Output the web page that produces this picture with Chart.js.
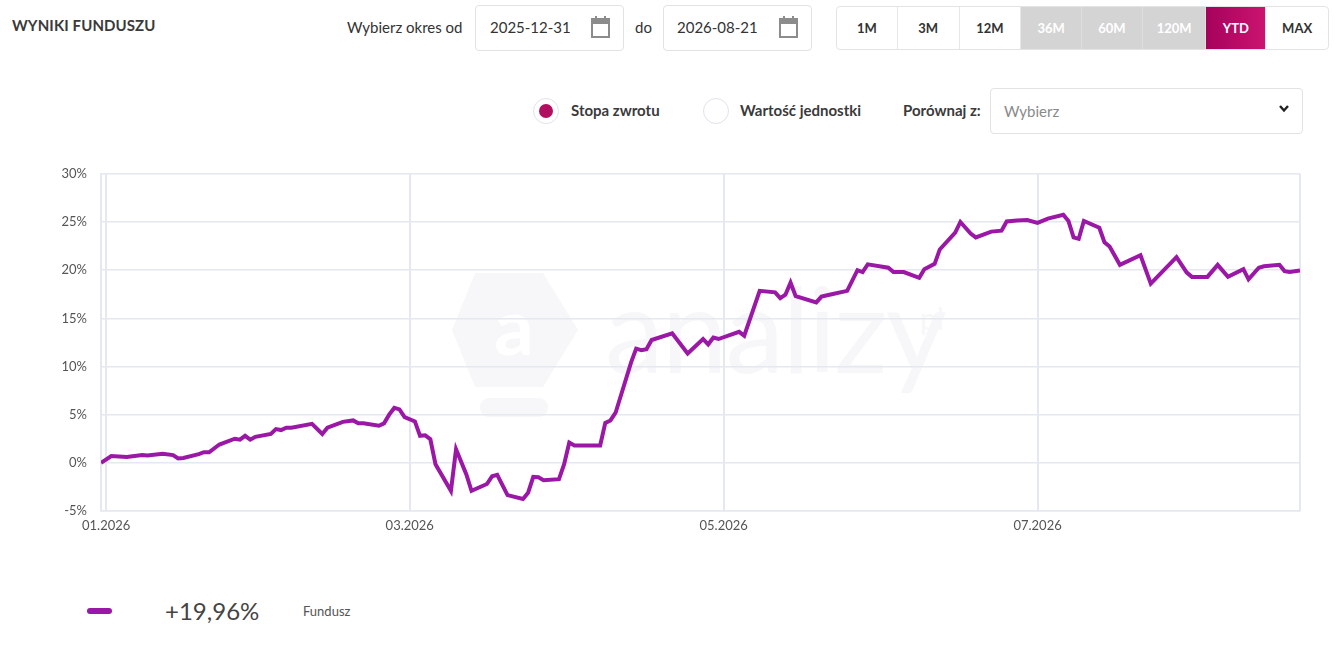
<!DOCTYPE html>
<html lang="pl">
<head>
<meta charset="utf-8">
<script src="https://cdn.jsdelivr.net/npm/chart.js@4.4.1/dist/chart.umd.min.js"></script>
<style>
  html,body{margin:0;padding:0;background:#fff;}
  body{width:1340px;height:648px;position:relative;overflow:hidden;font-family:Lato,"Open Sans",sans-serif;color:#333;}
  .abs{position:absolute;}
  .title{left:12px;top:16px;font-weight:700;font-size:15px;letter-spacing:0.1px;color:#3a3a3a;}
  .lbl{font-size:15px;color:#333;}
  .box{border:1px solid #e2e2e2;border-radius:4px;box-sizing:border-box;background:#fff;}
  .datetxt{font-size:15px;color:#333;}
  .btns{left:836px;top:6px;width:493px;height:44px;display:flex;border:1px solid #e4e4e4;border-radius:4px;overflow:hidden;box-sizing:border-box;}
  .btns div{display:flex;align-items:center;justify-content:center;font-weight:700;font-size:13px;color:#333;border-right:1px solid #e6e6e6;box-sizing:border-box;}
  .btns div:last-child{border-right:none;}
  .btns .dis{background:#d4d4d4;color:#fff;border-right:1px solid #dedede;}
  .btns .act{background:linear-gradient(90deg,#a5025c,#cb1470);color:#fff;}
  .radio{width:26px;height:26px;border-radius:50%;border:1px solid #dfe3ea;box-sizing:border-box;background:#fff;}
  .dot{width:14px;height:14px;border-radius:50%;background:#b20f60;position:absolute;left:5px;top:5px;}
  .rlbl{font-size:15px;font-weight:700;color:#3a3a3a;}
</style>
</head>
<body>
<div class="abs title">WYNIKI FUNDUSZU</div>
<div class="abs lbl" style="left:347px;top:18px;">Wybierz okres od</div>
<div class="abs box" style="left:475px;top:5px;width:149px;height:46px;"></div>
<div class="abs datetxt" style="left:490px;top:18px;">2025-12-31</div>
<svg class="abs" style="left:591px;top:16px;" width="20" height="22" viewBox="0 0 20 22">
  <rect x="1" y="3" width="17" height="18" fill="none" stroke="#8c8c8c" stroke-width="2"/>
  <rect x="1" y="3" width="17" height="5" fill="#8c8c8c"/>
  <rect x="4" y="0" width="2" height="5" fill="#8c8c8c"/>
  <rect x="13" y="0" width="2" height="5" fill="#8c8c8c"/>
</svg>
<div class="abs lbl" style="left:635px;top:18px;">do</div>
<div class="abs box" style="left:663px;top:5px;width:149px;height:46px;"></div>
<div class="abs datetxt" style="left:677px;top:18px;">2026-08-21</div>
<svg class="abs" style="left:779px;top:16px;" width="20" height="22" viewBox="0 0 20 22">
  <rect x="1" y="3" width="17" height="18" fill="none" stroke="#8c8c8c" stroke-width="2"/>
  <rect x="1" y="3" width="17" height="5" fill="#8c8c8c"/>
  <rect x="4" y="0" width="2" height="5" fill="#8c8c8c"/>
  <rect x="13" y="0" width="2" height="5" fill="#8c8c8c"/>
</svg>
<div class="abs btns">
  <div style="width:61px">1M</div>
  <div style="width:62px">3M</div>
  <div style="width:62px">12M</div>
  <div class="dis" style="width:61px">36M</div>
  <div class="dis" style="width:61px">60M</div>
  <div class="dis" style="width:64px">120M</div>
  <div class="act" style="width:60px">YTD</div>
  <div style="width:62px">MAX</div>
</div>

<div class="abs radio" style="left:533px;top:98px;"><div class="dot"></div></div>
<div class="abs rlbl" style="left:571px;top:101px;">Stopa zwrotu</div>
<div class="abs radio" style="left:703px;top:98px;"></div>
<div class="abs rlbl" style="left:740px;top:101px;">Wartość jednostki</div>
<div class="abs rlbl" style="left:903px;top:101px;">Porównaj z:</div>
<div class="abs box" style="left:990px;top:88px;width:313px;height:46px;"></div>
<div class="abs" style="left:1004px;top:102px;font-size:15px;color:#8a8a8a;">Wybierz</div>
<svg class="abs" style="left:1278px;top:104px;" width="12" height="10" viewBox="0 0 12 10">
  <polyline points="2,2 6,6.5 10,2" fill="none" stroke="#222" stroke-width="2.4"/>
</svg>

<!-- watermark -->
<svg class="abs" style="left:440px;top:260px;" width="520" height="170" viewBox="0 0 520 170">
  <polygon points="35,13 103,13 138,70 103,127 35,127 12,70" fill="#f7f7f9"/>
  <text x="74" y="95" text-anchor="middle" font-family="Lato,sans-serif" font-size="78" font-weight="700" fill="#fff">a</text>
  <rect x="40" y="138" width="68" height="19" rx="9" fill="#f7f7f9"/>
  <text x="165" y="113" font-family="Lato,sans-serif" font-size="118" font-weight="400" fill="#f7f7f9" letter-spacing="-2">analizy</text>
  <text x="480" y="70" font-family="Lato,sans-serif" font-size="30" font-weight="400" fill="#f7f7f9">pl</text>
</svg>

<canvas id="c" class="abs" style="left:0;top:152px;" width="1320" height="389"></canvas>

<div class="abs" style="left:87px;top:608px;width:25px;height:6px;border-radius:3px;background:#9b17a5;"></div>
<div class="abs" style="left:165px;top:596px;font-size:24px;color:#444;font-family:Lato,sans-serif;">+19,96%</div>
<div class="abs" style="left:303px;top:603px;font-size:13px;color:#555;">Fundusz</div>

<script>
const dates = [
 '2025-12-31','2026-01-02','2026-01-05','2026-01-08','2026-01-09','2026-01-12','2026-01-14','2026-01-15','2026-01-16','2026-01-19',
 '2026-01-20','2026-01-21','2026-01-23','2026-01-26','2026-01-27','2026-01-28','2026-01-29','2026-01-30','2026-02-02','2026-02-03',
 '2026-02-04','2026-02-05','2026-02-06','2026-02-10','2026-02-12','2026-02-13','2026-02-16','2026-02-18','2026-02-19','2026-02-20',
 '2026-02-23','2026-02-24','2026-02-25','2026-02-26','2026-02-27','2026-02-28','2026-03-02','2026-03-03','2026-03-04','2026-03-05',
 '2026-03-06','2026-03-09','2026-03-10','2026-03-12','2026-03-13','2026-03-16','2026-03-17','2026-03-18','2026-03-20','2026-03-23',
 '2026-03-24','2026-03-25','2026-03-26','2026-03-27','2026-03-30','2026-03-31','2026-04-01','2026-04-02','2026-04-07','2026-04-08',
 '2026-04-09','2026-04-10','2026-04-13','2026-04-14','2026-04-15','2026-04-16','2026-04-17','2026-04-21','2026-04-24','2026-04-27',
 '2026-04-28','2026-04-29','2026-04-30','2026-05-04','2026-05-05','2026-05-08','2026-05-11','2026-05-12','2026-05-13','2026-05-14',
 '2026-05-15','2026-05-19','2026-05-20','2026-05-22','2026-05-25','2026-05-27','2026-05-28','2026-05-29','2026-06-02','2026-06-03',
 '2026-06-05','2026-06-08','2026-06-09','2026-06-11','2026-06-12','2026-06-15','2026-06-16','2026-06-18','2026-06-19','2026-06-22',
 '2026-06-24','2026-06-25','2026-06-27','2026-06-29','2026-07-01','2026-07-03','2026-07-06','2026-07-07','2026-07-08','2026-07-09',
 '2026-07-10','2026-07-13','2026-07-14','2026-07-15','2026-07-17','2026-07-21','2026-07-23','2026-07-28','2026-07-30','2026-07-31',
 '2026-08-03','2026-08-05','2026-08-07','2026-08-10','2026-08-11','2026-08-13','2026-08-14','2026-08-17','2026-08-18','2026-08-19',
 '2026-08-21'
];
const fundReturn = [
 0.0,0.7,0.6,0.8,0.75,0.95,0.8,0.45,0.5,0.9,
 1.1,1.1,1.9,2.5,2.4,2.8,2.4,2.7,3.0,3.5,
 3.4,3.65,3.65,4.05,3.0,3.65,4.25,4.4,4.1,4.1,
 3.85,4.1,5.0,5.7,5.55,4.75,4.3,2.8,2.85,2.45,
 -0.15,-2.9,1.4,-1.2,-2.9,-2.2,-1.4,-1.25,-3.35,-3.75,
 -3.1,-1.45,-1.5,-1.8,-1.7,-0.15,2.1,1.8,1.8,4.15,
 4.4,5.2,10.4,11.85,11.7,11.8,12.75,13.45,11.35,12.85,
 12.3,13.0,12.85,13.6,13.2,17.85,17.7,17.1,17.45,18.7,
 17.3,16.65,17.25,17.5,17.85,20.0,19.8,20.6,20.25,19.8,
 19.8,19.2,20.1,20.65,22.15,23.9,25.0,23.8,23.4,24.0,
 24.1,25.05,25.15,25.2,24.9,25.35,25.75,25.1,23.4,23.25,
 25.1,24.4,22.9,22.45,20.55,21.55,18.6,21.35,19.75,19.3,
 19.3,20.55,19.3,20.1,19.05,20.25,20.4,20.55,19.9,19.8,
 19.96
];
const tickDates = ['2026-01-01','2026-03-01','2026-05-01','2026-07-01'];
const tickLabels = ['01.2026','03.2026','05.2026','07.2026'];
const yTicks = [-5,0,5,10,15,20,25,30];
const seriesName = 'Fundusz';

const t0 = Date.UTC(2025,11,31);
const dayOf = s => Math.round((Date.parse(s + 'T00:00:00Z') - t0) / 86400000);
const xMin = dayOf(dates[0]);
const xMax = dayOf(dates[dates.length - 1]);
const tickValues = tickDates.map(dayOf);

const GRID = '#e5e8f0';
const LINE = '#9b17a5';

new Chart(document.getElementById('c'), {
  type: 'line',
  data: {
    datasets: [{
      label: seriesName,
      data: dates.map((d, i) => ({ x: dayOf(d), y: fundReturn[i] })),
      borderColor: LINE,
      borderWidth: 4,
      pointRadius: 0,
      tension: 0,
      fill: false
    }]
  },
  options: {
    responsive: false,
    animation: false,
    layout: { padding: { top: 6, right: 20, left: 0, bottom: 0 } },
    plugins: { legend: { display: false }, tooltip: { enabled: false } },
    scales: {
      x: {
        type: 'linear',
        min: xMin,
        max: xMax,
        afterBuildTicks: s => { s.ticks = tickValues.concat([xMax]).map(v => ({ value: v })); },
        afterFit: s => { s.height = 30; },
        ticks: {
          autoSkip: false,
          maxRotation: 0,
          padding: 7,
          color: '#555',
          font: { family: 'Lato, sans-serif', size: 13 },
          callback: v => { const k = tickValues.indexOf(v); return k >= 0 ? tickLabels[k] : ''; }
        },
        grid: { color: GRID, lineWidth: 2, drawTicks: false },
        border: { display: true, color: GRID, width: 1.5 }
      },
      y: {
        min: yTicks[0],
        max: yTicks[yTicks.length - 1],
        afterBuildTicks: s => { s.ticks = yTicks.map(v => ({ value: v })); },
        afterFit: s => { s.width = 101; },
        ticks: {
          padding: 14,
          color: '#555',
          font: { family: 'Lato, sans-serif', size: 13 },
          callback: v => v + '%'
        },
        grid: { color: GRID, lineWidth: 1.5, drawTicks: false },
        border: { display: true, color: GRID, width: 2 }
      }
    }
  }
});
</script>
</body>
</html>
